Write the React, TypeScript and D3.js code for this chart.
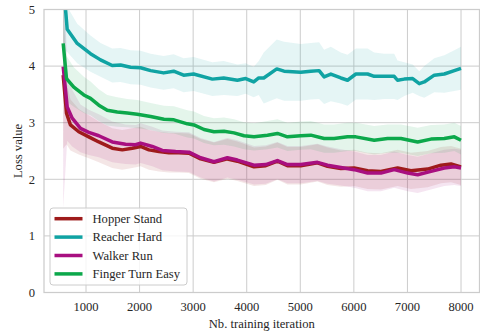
import React from "react";
import * as d3 from "d3";

// [iteration, mean loss, spread]
const hopperStand: [number, number, number][] = [
  [574, 3.84, 1.3], [636, 3.17, 0.55], [710, 2.96, 0.45], [865, 2.84, 0.4], [1052, 2.75, 0.38],
  [1239, 2.66, 0.36], [1490, 2.55, 0.35], [1677, 2.52, 0.35], [1864, 2.55, 0.35], [2019, 2.58, 0.35],
  [2174, 2.52, 0.35], [2361, 2.49, 0.35], [2548, 2.47, 0.35], [2735, 2.47, 0.35], [2922, 2.46, 0.35],
  [3140, 2.36, 0.35], [3389, 2.3, 0.35], [3639, 2.36, 0.35], [3826, 2.32, 0.35], [4136, 2.22, 0.34],
  [4355, 2.24, 0.34], [4573, 2.32, 0.33], [4760, 2.24, 0.33], [5009, 2.24, 0.33], [5321, 2.29, 0.33],
  [5508, 2.23, 0.33], [5757, 2.19, 0.32], [6006, 2.2, 0.32], [6256, 2.15, 0.32], [6505, 2.14, 0.32],
  [6816, 2.2, 0.32], [7066, 2.15, 0.32], [7377, 2.18, 0.32], [7626, 2.25, 0.32], [7813, 2.27, 0.32],
  [8000, 2.22, 0.32],
];

const reacherHard: [number, number, number][] = [
  [574, 5.5, 1.2], [649, 4.65, 0.4], [836, 4.4, 0.35], [1084, 4.22, 0.32], [1271, 4.11, 0.3],
  [1490, 4.01, 0.3], [1645, 4.02, 0.3], [1832, 3.98, 0.3], [2019, 3.97, 0.3], [2206, 3.92, 0.3],
  [2449, 3.88, 0.3], [2636, 3.91, 0.3], [2822, 3.84, 0.3], [3009, 3.86, 0.3], [3359, 3.77, 0.3],
  [3570, 3.79, 0.3], [3826, 3.75, 0.28], [3981, 3.78, 0.27], [4131, 3.72, 0.27], [4224, 3.79, 0.3],
  [4318, 3.79, 0.45], [4561, 3.95, 0.52], [4697, 3.91, 0.52], [5009, 3.89, 0.5], [5196, 3.91, 0.5],
  [5351, 3.92, 0.5], [5445, 3.81, 0.48], [5570, 3.86, 0.48], [5757, 3.79, 0.45], [5882, 3.75, 0.45],
  [6037, 3.86, 0.45], [6256, 3.86, 0.45], [6379, 3.82, 0.42], [6566, 3.82, 0.4], [6753, 3.82, 0.4],
  [6815, 3.75, 0.35], [6940, 3.77, 0.3], [7097, 3.78, 0.25], [7221, 3.69, 0.22], [7314, 3.72, 0.28],
  [7501, 3.84, 0.3], [7688, 3.86, 0.33], [7875, 3.92, 0.36], [8000, 3.96, 0.38],
];

const walkerRun: [number, number, number][] = [
  [574, 3.99, 2.5], [649, 3.28, 0.6], [742, 3.08, 0.5], [897, 2.9, 0.42], [1052, 2.83, 0.4],
  [1239, 2.77, 0.38], [1490, 2.66, 0.36], [1738, 2.62, 0.35], [1925, 2.61, 0.35], [2019, 2.64, 0.35],
  [2237, 2.58, 0.35], [2424, 2.51, 0.35], [2673, 2.49, 0.35], [2922, 2.48, 0.35], [3140, 2.38, 0.35],
  [3389, 2.31, 0.35], [3639, 2.38, 0.35], [3826, 2.34, 0.35], [4136, 2.25, 0.34], [4355, 2.26, 0.34],
  [4573, 2.33, 0.33], [4760, 2.26, 0.33], [5009, 2.26, 0.33], [5321, 2.3, 0.33], [5508, 2.25, 0.33],
  [5757, 2.21, 0.32], [6006, 2.17, 0.32], [6256, 2.11, 0.32], [6505, 2.11, 0.32], [6753, 2.17, 0.32],
  [7004, 2.11, 0.32], [7191, 2.08, 0.32], [7439, 2.14, 0.32], [7688, 2.2, 0.32], [7875, 2.22, 0.32],
  [8000, 2.2, 0.32],
];

const fingerTurnEasy: [number, number, number][] = [
  [574, 4.4, 0.9], [636, 3.78, 0.4], [772, 3.63, 0.35], [959, 3.49, 0.32], [1084, 3.43, 0.3],
  [1239, 3.31, 0.28], [1396, 3.22, 0.27], [1583, 3.19, 0.26], [1770, 3.17, 0.25], [1957, 3.15, 0.25],
  [2206, 3.11, 0.24], [2455, 3.06, 0.24], [2641, 3.05, 0.24], [2891, 2.98, 0.24], [3015, 2.96, 0.24],
  [3202, 2.88, 0.24], [3389, 2.84, 0.24], [3576, 2.85, 0.24], [3763, 2.82, 0.24], [3950, 2.77, 0.24],
  [4136, 2.75, 0.24], [4387, 2.78, 0.25], [4573, 2.81, 0.25], [4760, 2.75, 0.25], [5009, 2.77, 0.25],
  [5196, 2.78, 0.25], [5445, 2.72, 0.25], [5632, 2.72, 0.25], [5882, 2.75, 0.25], [6037, 2.75, 0.25],
  [6379, 2.69, 0.25], [6630, 2.72, 0.25], [6879, 2.72, 0.25], [7191, 2.66, 0.25], [7439, 2.71, 0.25],
  [7688, 2.72, 0.25], [7875, 2.75, 0.25], [8000, 2.69, 0.25],
];

const seriesNames = ["Hopper Stand", "Reacher Hard", "Walker Run", "Finger Turn Easy"];
const seriesColors = ["#9e1b1b", "#10a3a3", "#a80f80", "#0ca84b"];
const seriesData = [hopperStand, reacherHard, walkerRun, fingerTurnEasy];

const xTicks = [1000, 2000, 3000, 4000, 5000, 6000, 7000, 8000];
const yTicks = [0, 1, 2, 3, 4, 5];

const W = 480;
const H = 335;
const plot = { left: 44, right: 479.5, top: 9.5, bottom: 292.5 };
const FONT = '"Liberation Serif", serif';
const GRID = "#cccccc";
const TEXT = "#262626";

export default function App() {
  const x = d3.scaleLinear().domain([216, 8345]).range([plot.left, plot.right]);
  const y = d3.scaleLinear().domain([0, 5]).range([plot.bottom, plot.top]);

  const line = d3
    .line<[number, number, number]>()
    .x((d) => x(d[0]))
    .y((d) => y(d[1]));
  const band = d3
    .area<[number, number, number]>()
    .x((d) => x(d[0]))
    .y0((d) => y(d[1] - d[2]))
    .y1((d) => y(d[1] + d[2]));

  const legendX = 50;
  const legendY = 208;
  const rowGap = 18.4;
  const textStyle = { fontFamily: FONT, fontSize: "12.6px" };

  return (
    <svg width={W} height={H} style={{ position: "absolute", left: 0, top: 0, background: "#fff" }}>
      <defs>
        <clipPath id="plot-area">
          <rect
            x={plot.left}
            y={plot.top}
            width={plot.right - plot.left}
            height={plot.bottom - plot.top}
          />
        </clipPath>
      </defs>

      {/* grid */}
      {xTicks.map((t) => (
        <line key={"gx" + t} x1={x(t)} x2={x(t)} y1={plot.top} y2={plot.bottom} stroke={GRID} strokeWidth={1} />
      ))}
      {yTicks.map((t) => (
        <line key={"gy" + t} x1={plot.left} x2={plot.right} y1={y(t)} y2={y(t)} stroke={GRID} strokeWidth={1} />
      ))}

      {/* spread bands, then mean curves */}
      <g clipPath="url(#plot-area)">
        {seriesData.map((s, i) => (
          <path key={"b" + i} d={band(s) || ""} fill={seriesColors[i]} fillOpacity={0.11} stroke="none" />
        ))}
        {seriesData.map((s, i) => (
          <path
            key={"l" + i}
            d={line(s) || ""}
            fill="none"
            stroke={seriesColors[i]}
            strokeWidth={3.5}
            strokeLinejoin="round"
            strokeLinecap="butt"
          />
        ))}
      </g>

      {/* frame */}
      <rect
        x={plot.left}
        y={plot.top}
        width={plot.right - plot.left}
        height={plot.bottom - plot.top}
        fill="none"
        stroke={GRID}
        strokeWidth={1.25}
      />

      {/* tick labels */}
      {xTicks.map((t) => (
        <text key={"tx" + t} x={x(t)} y={311} textAnchor="middle" style={textStyle} fill={TEXT}>
          {t}
        </text>
      ))}
      {yTicks.map((t) => (
        <text key={"ty" + t} x={35} y={y(t) + 4.3} textAnchor="end" style={textStyle} fill={TEXT}>
          {t}
        </text>
      ))}

      {/* axis titles */}
      <text x={(plot.left + plot.right) / 2} y={327.5} textAnchor="middle" style={textStyle} fill={TEXT}>
        Nb. training iteration
      </text>
      <text
        transform={`translate(${22}, ${(plot.top + plot.bottom) / 2}) rotate(-90)`}
        textAnchor="middle"
        style={textStyle}
        fill={TEXT}
      >
        Loss value
      </text>

      {/* legend */}
      <rect
        x={legendX}
        y={legendY}
        width={137}
        height={77}
        rx={3}
        fill="#ffffff"
        fillOpacity={0.8}
        stroke={GRID}
        strokeWidth={1}
      />
      {seriesNames.map((name, i) => {
        const cy = legendY + 10.7 + i * rowGap;
        return (
          <g key={"lg" + i}>
            <line x1={54.5} x2={82.5} y1={cy} y2={cy} stroke={seriesColors[i]} strokeWidth={3.5} />
            <text x={92.5} y={cy + 4.3} style={textStyle} fill={TEXT}>
              {name}
            </text>
          </g>
        );
      })}
    </svg>
  );
}
